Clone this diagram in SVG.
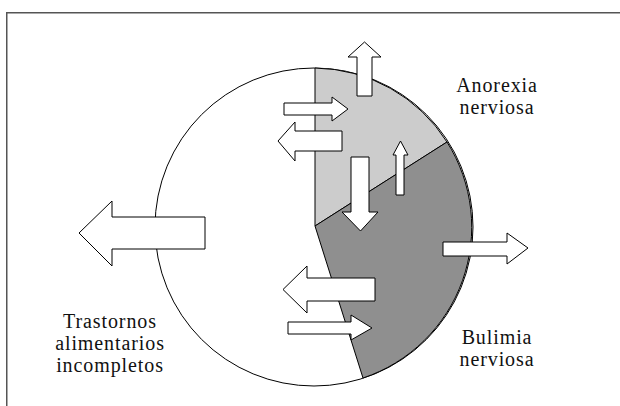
<svg xmlns="http://www.w3.org/2000/svg" width="620" height="406" viewBox="0 0 620 406">
<style>
.frame{fill:none;stroke:#555;stroke-width:1.5}
.circ{fill:#fff;stroke:#000;stroke-width:1}
.seg{stroke:#000;stroke-width:1}
.arr{fill:#fff;stroke:#000;stroke-width:1;stroke-linejoin:miter}
.lbl{font-family:"Liberation Serif","Times New Roman",serif;font-size:20px;letter-spacing:0.9px;fill:#111;text-anchor:middle}
</style>
<rect width="620" height="406" fill="#fff"/>
<path class="frame" d="M6.75,407 V12.75 H621"/>
<g id="circle">
<circle class="circ" cx="314" cy="227" r="159"/>
</g>
<g id="anorexia-sector">
<path class="seg" fill="#cccccc" d="M315,68 A159,159 0 0 1 447,142 L315,226 Z"/>
</g>
<g id="bulimia-sector">
<path class="seg" fill="#8f8f8f" d="M447,142 A159,159 0 0 1 363,378 L315,226 Z"/>
</g>
<g id="connectors">
<path class="arr" d="M357,96 V57 H348 L364.5,42 L381,57 H372 V96 Z"/>
<path class="arr" d="M284,103 H332 V97 L348,109 L332,121 V115 H284 Z"/>
<path class="arr" d="M342,131 H295 V122 L278,141 L295,161 V151 H342 Z"/>
<path class="arr" d="M351,157 H369 V212 H378 L360.5,231 L342,212 H351 Z"/>
<path class="arr" d="M396,195 V155 H393 L400.5,141 L408,155 H404 V195 Z"/>
<path class="arr" d="M443,242 H507 V233 L528,248 L507,264 V256 H443 Z"/>
<path class="arr" d="M375,278 H307 V266 L283,289.5 L307,313 V301 H375 Z"/>
<path class="arr" d="M288,322 H351 V315 L372,328 L351,340 V334 H288 Z"/>
<path class="arr" d="M205,217 H112 V201 L79,233 L112,266 V249 H205 Z"/>
</g>
<g id="label-anorexia">
<text class="lbl" x="497" y="92">Anorexia</text>
<text class="lbl" x="497" y="114">nerviosa</text>
</g>
<g id="label-bulimia">
<text class="lbl" x="497" y="344">Bulimia</text>
<text class="lbl" x="497" y="366">nerviosa</text>
</g>
<g id="label-trastornos">
<text class="lbl" x="110" y="328">Trastornos</text>
<text class="lbl" x="110" y="350">alimentarios</text>
<text class="lbl" x="110" y="372">incompletos</text>
</g>
</svg>
